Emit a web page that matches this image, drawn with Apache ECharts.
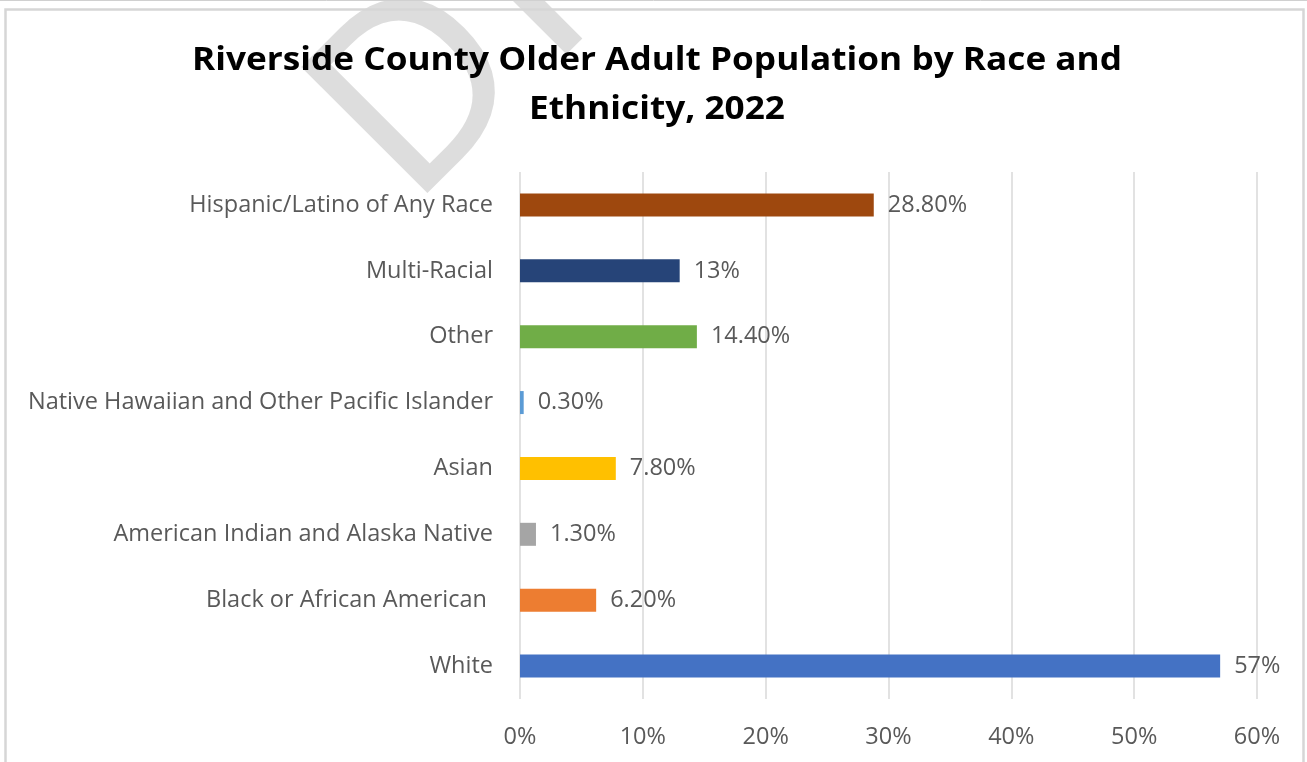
<!DOCTYPE html>
<html>
<head>
<meta charset="utf-8">
<title>Riverside County Older Adult Population by Race and Ethnicity, 2022</title>
<script src="https://cdn.jsdelivr.net/npm/echarts@6/dist/echarts.min.js"></script>
<style>
  html, body { margin: 0; padding: 0; background: #ffffff; }
  #chart { width: 1307px; height: 762px; }
</style>
</head>
<body>
<div id="chart"></div>
<script>
// Categories, listed bottom to top as the category axis draws them
const categories = [
  'White',
  'Black or African American ',
  'American Indian and Alaska Native',
  'Asian',
  'Native Hawaiian and Other Pacific Islander',
  'Other',
  'Multi-Racial',
  'Hispanic/Latino of Any Race'
];

// Share of the older adult population, in percent
const shares = [57, 6.2, 1.3, 7.8, 0.3, 14.4, 13, 28.8];

// One fill per category
const barColors = ['#4472C4', '#ED7D31', '#A5A5A5', '#FFC000', '#5B9BD5', '#70AD47', '#264478', '#9E480E'];

// Value axis range and step, in percent
const axisMin = 0;
const axisMax = 60;
const axisStep = 10;

const titleLines = ['Riverside County Older Adult Population by Race and', 'Ethnicity, 2022'];
const watermarkText = 'DRAFT';

const labelFont = '"Open Sans", Lato, sans-serif';
const labelSize = 23.5;
const titleFont = 'bold 32px "Open Sans", Lato, sans-serif';
const watermarkFont = '250px "Noto Sans", sans-serif';

function formatShare(v) {
  return (Number.isInteger(v) ? String(v) : v.toFixed(2)) + '%';
}

// width of a string in a given canvas font, used to space the watermark letters
function textWidth(str, font) {
  const ctx = document.createElement('canvas').getContext('2d');
  ctx.font = font;
  return ctx.measureText(str).width;
}

// watermark: letters laid out along a rotated baseline with a little extra tracking
const watermarkTracking = 14;
const watermarkLetters = [];
let cursor = 0;
for (const ch of watermarkText) {
  watermarkLetters.push({
    type: 'text', x: cursor, y: 0,
    style: { text: ch, fill: 'rgba(198,198,198,0.6)', font: watermarkFont, textAlign: 'left', textVerticalAlign: 'middle' }
  });
  cursor += textWidth(ch, watermarkFont) + watermarkTracking;
}

const chart = echarts.init(document.getElementById('chart'), null, { renderer: 'canvas' });

chart.setOption({
  backgroundColor: '#ffffff',
  animation: false,
  grid: { left: 520, right: 50, top: 172, height: 527, containLabel: false },
  xAxis: {
    type: 'value',
    min: axisMin,
    max: axisMax,
    interval: axisStep,
    axisLine: { show: false },
    axisTick: { show: false },
    splitLine: { show: true, lineStyle: { color: '#d9d9d9', width: 1.5 } },
    axisLabel: {
      formatter: '{value}%',
      color: '#595959',
      fontSize: labelSize,
      fontFamily: labelFont,
      margin: 26
    }
  },
  yAxis: {
    type: 'category',
    data: categories,
    axisLine: { show: false },
    axisTick: { show: false },
    splitLine: { show: false },
    axisLabel: {
      color: '#595959',
      fontSize: labelSize,
      fontFamily: labelFont,
      margin: 27
    }
  },
  series: [{
    type: 'bar',
    barWidth: 23,
    data: shares.map((v, i) => ({ value: v, itemStyle: { color: barColors[i] } })),
    label: {
      show: true,
      position: 'right',
      distance: 14,
      color: '#595959',
      fontSize: labelSize,
      fontFamily: labelFont,
      formatter: p => formatShare(p.value)
    }
  }],
  graphic: [
    // outer page rule and chart frame
    { type: 'line', z: 1, shape: { x1: 0, y1: 0.5, x2: 1307, y2: 0.5 }, style: { stroke: '#d0d0d0', lineWidth: 1 } },
    { type: 'rect', z: 1, shape: { x: 5.5, y: 9.5, width: 1298, height: 800 }, style: { fill: 'none', stroke: '#d6d6d6', lineWidth: 2.5 } },
    {
      type: 'text', z: 10, x: 657, y: 61, scaleX: 1.1,
      style: { text: titleLines[0], fill: '#000000', font: titleFont, textAlign: 'center', textVerticalAlign: 'middle' }
    },
    {
      type: 'text', z: 10, x: 657, y: 110, scaleX: 1.1,
      style: { text: titleLines[1], fill: '#000000', font: titleFont, textAlign: 'center', textVerticalAlign: 'middle' }
    },
    {
      type: 'group', z: 100, x: 360, y: 160, rotation: 45 * Math.PI / 180,
      children: watermarkLetters
    }
  ]
});
</script>
</body>
</html>
